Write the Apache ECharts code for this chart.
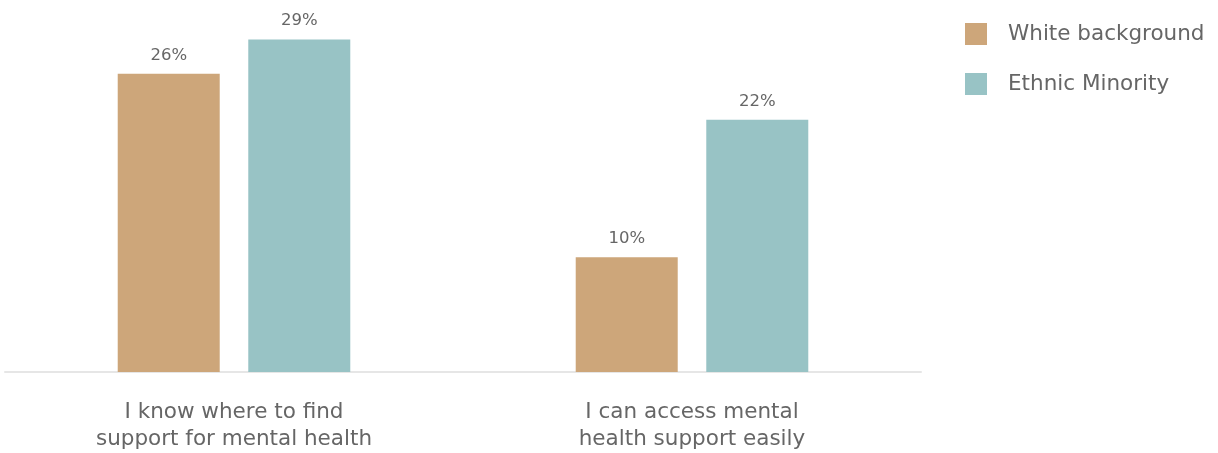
<!DOCTYPE html>
<html>
<head>
<meta charset="utf-8">
<style type="text/css">
	html,body{margin:0;padding:0;background:#fff}
	#main{width:1218px;height:453px;}
</style>
</head>
<body>
<div id="main"></div>
<script src="https://cdn.jsdelivr.net/npm/echarts@6/dist/echarts.min.js"></script>
<script type="text/javascript">
// 数据
var categories = ['I know where to find\nsupport for mental health', 'I can access mental\nhealth support easily'];
var seriesNames = ['White background', 'Ethnic Minority'];
var whiteValues = [26, 10];
var minorityValues = [29, 22];
var colors = ['#cda67a', '#98c3c5'];

var chart = echarts.init(document.getElementById('main'));
var fontFamily = '"DejaVu Sans", sans-serif';

function barSeries(name, data, color) {
	return {
		name: name,
		type: 'bar',
		data: data,
		barWidth: 102,
		barGap: '28%',
		itemStyle: { color: color },
		label: {
			show: true,
			position: 'top',
			distance: 10,
			formatter: '{c}%',
			color: '#666',
			fontSize: 16.5,
			fontFamily: fontFamily
		}
	};
}

chart.setOption({
	animation: false,
	grid: { left: 5, right: 297, top: 28, bottom: 70, containLabel: false },
	legend: {
		orient: 'vertical',
		left: 960,
		top: 18,
		itemWidth: 22,
		itemHeight: 22,
		itemGap: 28,
		icon: 'rect',
		textStyle: { color: '#666', fontSize: 21.5, fontFamily: fontFamily, padding: [2, 0, 0, 16] },
		data: seriesNames
	},
	xAxis: {
		type: 'category',
		data: categories,
		axisLine: { lineStyle: { color: '#e6e6e6', width: 2 } },
		axisTick: { show: false },
		axisLabel: { color: '#666', fontSize: 21.5, lineHeight: 27, margin: 27, fontFamily: fontFamily }
	},
	yAxis: {
		type: 'value',
		min: 0,
		max: 30,
		show: false
	},
	series: [
		barSeries(seriesNames[0], whiteValues, colors[0]),
		barSeries(seriesNames[1], minorityValues, colors[1])
	]
});
</script>
</body>
</html>
